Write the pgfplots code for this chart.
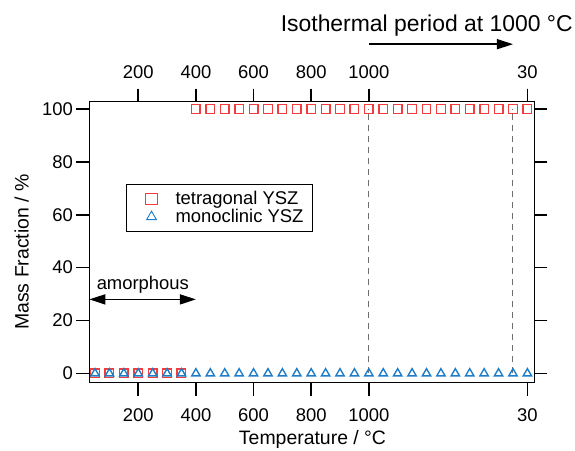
\documentclass[border=0pt]{standalone}
\usepackage{fontspec}
\setmainfont{Liberation Sans}
\usepackage{pgfplots}
\pgfplotsset{compat=1.18}
\usetikzlibrary{arrows.meta}
\definecolor{tetred}{RGB}{245,60,60}
\definecolor{monoblue}{RGB}{30,125,200}
\definecolor{dashgray}{RGB}{110,110,110}
\newcommand{\fs}{\fontsize{18.5}{22}\selectfont}
\begin{document}
\begin{tikzpicture}
\useasboundingbox (-89.3bp,-68.3bp) rectangle (485.7bp,382.7bp);
\begin{axis}[
  at={(0,0)}, anchor=south west,
  scale only axis, width=445bp, height=281bp,
  xmin=30.2, xmax=1574, ymin=-3.5, ymax=102.75,
  clip=false,
  axis line style={line width=1.5pt, black},
  tick align=outside,
  major tick length=13bp,
  every tick/.style={line width=1.5pt, black},
  xtick={200,400,600,800,1000,1550},
  xticklabels={200,400,600,800,1000,30},
  ytick={0,20,40,60,80,100},
  xtick pos=both, xticklabel pos=bottom,
  ytick pos=both, yticklabel pos=left,
  /pgf/number format/assume math mode=true,
  ticklabel style={font=\fs},
  xticklabel style={yshift=-9bp},
  xlabel={Temperature / °C},
  ylabel={Mass Fraction / \%},
  label style={font=\fontsize{19.5}{23}\selectfont},
  xlabel style={at={(rel axis cs:0.5016,-0.2004)}, anchor=center},
  ylabel style={at={(rel axis cs:-0.152,0.465)}, anchor=center},
  legend style={at={(rel axis cs:0.0825,0.707)}, anchor=north west,
    draw=black, line width=1pt, font=\fs, inner xsep=7bp, inner ysep=5bp,
    row sep=-1bp},
  legend cell align=left,
  legend image code/.code={
    \path[draw=none, fill=none] (0bp,-2bp) rectangle (40bp,2bp);
    \draw[#1, only marks, mark size=5.6bp, line width=0.9pt] plot coordinates {(18bp,0bp)};
  },
]
\addplot[only marks, mark=square, mark size=4.3bp, color=tetred, line width=1.4pt]
  coordinates {(50,0)(100,0)(150,0)(200,0)(250,0)(300,0)(350,0)
  (400,100)(450,100)(500,100)(550,100)(600,100)(650,100)(700,100)(750,100)(800,100)(850,100)(900,100)(950,100)(1000,100)
  (1050,100)(1100,100)(1150,100)(1200,100)(1250,100)(1300,100)(1350,100)(1400,100)(1450,100)(1500,100)(1550,100)};
\addlegendentry{tetragonal YSZ}
\addplot[only marks, mark=triangle, mark size=4.8bp, color=monoblue, line width=1.4pt]
  coordinates {(50,0)(100,0)(150,0)(200,0)(250,0)(300,0)(350,0)
  (400,0)(450,0)(500,0)(550,0)(600,0)(650,0)(700,0)(750,0)(800,0)(850,0)(900,0)(950,0)(1000,0)
  (1050,0)(1100,0)(1150,0)(1200,0)(1250,0)(1300,0)(1350,0)(1400,0)(1450,0)(1500,0)(1550,0)};
\addlegendentry{monoclinic YSZ}
\addplot[dashgray, line width=1pt, dash pattern=on 6bp off 5bp, forget plot]
  coordinates {(1000,0)(1000,100)};
\addplot[dashgray, line width=1pt, dash pattern=on 6bp off 5bp, forget plot]
  coordinates {(1500,0)(1500,100)};
\draw[line width=1.5pt, {Triangle[length=16bp,width=10bp]}-{Triangle[length=16bp,width=10bp]}]
  (axis cs:30.2,28) -- (axis cs:400,28);
\node[font=\fs] at (axis cs:216,33.4) {amorphous};
\draw[line width=1.5pt, -{Triangle[length=16bp,width=10bp]}]
  (axis cs:1000,124.5) -- (axis cs:1500,124.5);
\node[font=\fontsize{23}{27}\selectfont] at (axis cs:1201,131.6) {Isothermal period at 1000 °C};
\end{axis}
\begin{axis}[
  at={(0,0)}, anchor=south west,
  scale only axis, width=445bp, height=281bp,
  xmin=30.2, xmax=1574, ymin=-3.5, ymax=102.75,
  axis x line*=top, axis y line=none,
  axis line style={line width=1.5pt, black},
  tick align=outside,
  major tick length=13bp,
  every tick/.style={line width=1.5pt, black},
  xtick={200,400,600,800,1000,1550},
  xticklabels={200,400,600,800,1000,30},
  /pgf/number format/assume math mode=true,
  ticklabel style={font=\fs},
  xticklabel style={yshift=6bp},
]
\end{axis}
\end{tikzpicture}
\end{document}
